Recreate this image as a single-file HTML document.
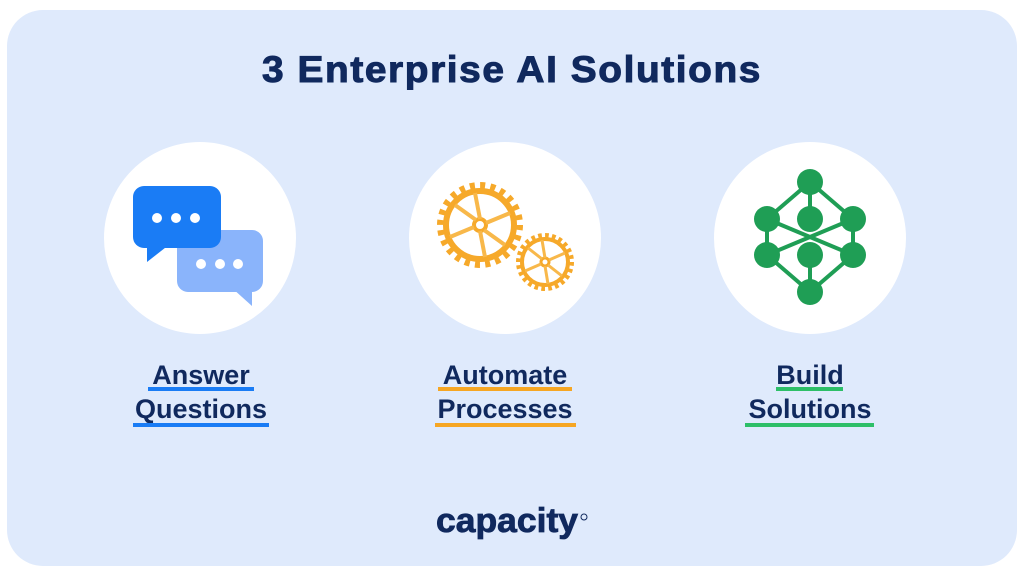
<!DOCTYPE html>
<html><head><meta charset="utf-8"><style>
body{margin:0;width:1024px;height:576px;background:#fff;overflow:hidden;font-family:"Liberation Sans",sans-serif}
</style></head><body>
<svg width="1024" height="576" viewBox="0 0 1024 576" xmlns="http://www.w3.org/2000/svg">
<rect x="7" y="10" width="1010" height="556" rx="36" fill="#dfeafc"/>
<text x="512" y="82" text-anchor="middle" font-family="Liberation Sans" font-weight="bold" font-size="37" fill="#10295e" stroke="#10295e" stroke-width="1" letter-spacing="1.5" textLength="500" lengthAdjust="spacingAndGlyphs">3 Enterprise AI Solutions</text>
<circle cx="200" cy="238" r="96" fill="#fff"/>
<circle cx="505" cy="238" r="96" fill="#fff"/>
<circle cx="810" cy="238" r="96" fill="#fff"/>
<!-- chat -->
<rect x="177" y="230" width="86" height="62" rx="11" fill="#8ab4fb"/>
<path d="M232 288 L252 306 L252 288Z" fill="#8ab4fb"/>
<rect x="133" y="186" width="88" height="62" rx="11" fill="#1a7cf5"/>
<path d="M147 244 L147 262 L170 244Z" fill="#1a7cf5"/>
<g fill="#fff"><circle cx="157" cy="218" r="5"/><circle cx="176" cy="218" r="5"/><circle cx="195" cy="218" r="5"/>
<circle cx="201" cy="264" r="5"/><circle cx="220" cy="264" r="5"/><circle cx="238" cy="264" r="5"/></g>
<!-- gears -->
<g stroke="#f6a92a" fill="none">
<circle cx="480" cy="225" r="39" stroke-width="8" stroke-dasharray="5 5.2"/>
<circle cx="480" cy="225" r="34" stroke-width="6"/>
<circle cx="480" cy="225" r="6" stroke-width="4"/>
<g stroke-width="4" stroke="#f8b84a"><line x1="480" y1="219" x2="475" y2="193"/><line x1="486" y1="223" x2="510" y2="213"/><line x1="484" y1="230" x2="505" y2="245"/><line x1="480" y1="231" x2="485" y2="257"/><line x1="474" y1="227" x2="450" y2="237"/><line x1="476" y1="220" x2="455" y2="205"/></g>
<circle cx="545" cy="262" r="26" stroke-width="6" stroke-dasharray="3.6 3.2"/>
<circle cx="545" cy="262" r="23" stroke-width="4"/>
<circle cx="545" cy="262" r="4" stroke-width="3"/>
<g stroke-width="3" stroke="#f8b84a"><line x1="545" y1="258" x2="542" y2="240"/><line x1="549" y1="260" x2="565" y2="253"/><line x1="548" y1="265" x2="562" y2="276"/><line x1="545" y1="266" x2="548" y2="284"/><line x1="541" y1="264" x2="525" y2="271"/><line x1="542" y1="259" x2="528" y2="248"/></g>
</g>
<!-- molecule -->
<g stroke="#1f9e55" stroke-width="4">
<line x1="810" y1="182" x2="767" y2="219"/><line x1="810" y1="182" x2="853" y2="219"/><line x1="810" y1="182" x2="810" y2="219"/>
<line x1="767" y1="219" x2="767" y2="255"/><line x1="853" y1="219" x2="853" y2="255"/>
<line x1="767" y1="219" x2="853" y2="255"/><line x1="853" y1="219" x2="767" y2="255"/>
<line x1="810" y1="255" x2="810" y2="292"/><line x1="767" y1="255" x2="810" y2="292"/><line x1="853" y1="255" x2="810" y2="292"/>
</g>
<g fill="#1f9e55"><circle cx="810" cy="182" r="13"/><circle cx="767" cy="219" r="13"/><circle cx="810" cy="219" r="13"/><circle cx="853" cy="219" r="13"/><circle cx="767" cy="255" r="13"/><circle cx="810" cy="255" r="13"/><circle cx="853" cy="255" r="13"/><circle cx="810" cy="292" r="13"/></g>
<!-- labels -->
<g font-family="Liberation Sans" font-weight="bold" font-size="27" fill="#10295e" text-anchor="middle">
<text x="201" y="384">Answer</text><text x="201" y="418">Questions</text>
<text x="505" y="384">Automate</text><text x="505" y="418">Processes</text>
<text x="810" y="384">Build</text><text x="810" y="418">Solutions</text>
</g>
<g>
<rect x="148" y="387" width="106" height="4" fill="#1a7cf5"/><rect x="133" y="423" width="136" height="4" fill="#1a7cf5"/>
<rect x="438" y="387" width="134" height="4" fill="#f6a623"/><rect x="435" y="423" width="141" height="4" fill="#f6a623"/>
<rect x="776" y="387" width="67" height="4" fill="#2dbf68"/><rect x="745" y="423" width="129" height="4" fill="#2dbf68"/>
</g>
<text x="436" y="532" font-family="Liberation Sans" font-weight="bold" font-size="34" fill="#10295e" stroke="#10295e" stroke-width="0.8" textLength="142" lengthAdjust="spacingAndGlyphs">capacity</text>
<circle cx="584" cy="517" r="3" fill="none" stroke="#10295e" stroke-width="1"/>
</svg>
</body></html>
